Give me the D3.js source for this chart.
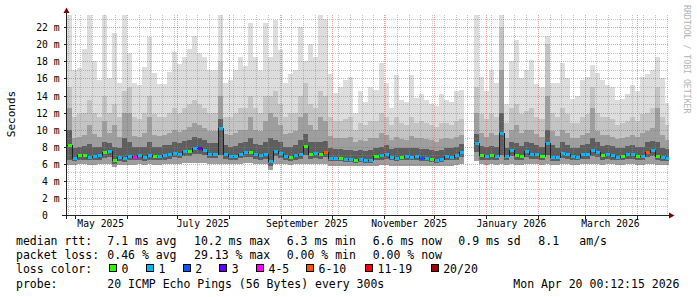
<!DOCTYPE html>
<html>
<head>
<meta charset="utf-8">
<script src="https://cdn.jsdelivr.net/npm/d3@7/dist/d3.min.js"></script>
<style>
  html, body { margin: 0; padding: 0; background: #fff; }
  svg { display: block; font-family: "DejaVu Sans Mono", monospace; }
  .axis text { font-family: "DejaVu Sans Mono", monospace; font-size: 9.7px; fill: #000; }
  .axis path.domain { display: none; }
  .legend text { font-size: 11.5px; fill: #000; white-space: pre; }
</style>
</head>
<body>
<svg id="chart" width="697" height="297"></svg>
<script>
// 3-day buckets starting 26 Apr 2025; null = no data (late Dec outage)
const bucketStart = new Date(2025, 3, 26);
const bucketDays = 3;

const maxRtt = [
  23.4, 17.0, 17.2, 19.5, 23.4, 18.0, 15.8, 23.4, 16.0, 21.3,
  15.5, 23.4, 19.0, 15.5, 15.2, 17.4, 20.9, 16.6, 15.3, 15.3,
  16.8, 19.1, 17.7, 18.5, 19.5, 21.0, 19.0, 18.5, 17.0, 17.0,
  23.4, 15.5, 15.8, 17.0, 18.5, 17.5, 22.5, 18.5, 17.0, 22.5,
  18.5, 22.8, 19.3, 15.5, 16.5, 17.0, 22.0, 18.0, 20.0, 18.5,
  23.4, 23.0, 16.5, 14.3, 15.0, 15.8, 16.2, 12.0, 14.5, 13.2,
  15.0, 14.7, 17.8, 15.5, 12.5, 16.4, 13.5, 13.2, 16.4, 13.7,
  14.2, 13.5, 13.0, 12.8, 14.2, 13.5, 13.3, 14.5, 14.7, null,
  null, 23.4, 16.2, 14.5, 17.0, 15.5, 23.4, 13.0, 18.0, 20.5,
  16.0, 17.0, 18.2, 15.3, 15.0, 21.0, 15.5, 15.5, 17.8, 16.0,
  13.6, 14.0, 15.8, 16.2, 17.6, 16.6, 15.8, 15.2, 15.0, 13.5,
  13.6, 14.2, 15.2, 14.5, 16.2, 16.5, 17.0, 18.5, 16.0, 13.1
];
const upperRtt = [
  15.0, 11.5, 11.8, 12.0, 13.5, 12.0, 11.5, 14.0, 12.0, 13.0,
  11.5, 14.5, 15.0, 11.5, 11.2, 12.0, 14.0, 11.8, 11.5, 11.5,
  12.0, 12.5, 12.0, 12.5, 13.0, 13.5, 13.0, 12.5, 12.0, 12.0,
  18.0, 11.5, 11.5, 12.0, 12.5, 12.5, 14.0, 12.5, 12.0, 14.0,
  14.0, 14.5, 13.0, 11.5, 12.0, 12.0, 14.0, 15.5, 13.0, 12.5,
  14.5, 14.0, 11.5, 11.0, 11.0, 11.2, 11.5, 10.0, 10.8, 10.5,
  11.0, 11.0, 12.0, 11.5, 10.5, 11.5, 10.8, 10.5, 11.5, 10.8,
  11.0, 10.8, 10.5, 10.3, 10.8, 10.8, 10.6, 11.0, 11.2, null,
  null, 15.0, 11.8, 11.2, 12.0, 11.5, 22.0, 10.8, 12.5, 13.0,
  11.8, 12.2, 12.5, 11.5, 11.2, 20.0, 12.0, 11.5, 12.5, 11.8,
  10.8, 10.8, 11.5, 11.8, 15.0, 12.0, 11.5, 11.5, 11.2, 10.6,
  10.8, 11.0, 11.5, 11.0, 11.8, 12.0, 12.5, 15.0, 11.5, 10.5
];
const midRtt = [
  12.5, 9.0, 9.2, 9.4, 10.5, 9.5, 9.2, 11.0, 9.6, 10.5,
  9.2, 12.0, 12.0, 9.3, 9.2, 9.6, 11.5, 9.4, 9.3, 9.4,
  9.6, 10.0, 9.7, 10.0, 10.3, 10.8, 10.5, 10.2, 9.8, 9.8,
  14.0, 9.5, 9.4, 9.6, 10.0, 10.0, 11.5, 10.0, 9.8, 11.0,
  12.0, 11.5, 10.5, 9.5, 9.6, 9.8, 11.5, 12.0, 10.5, 10.0,
  11.5, 11.0, 9.3, 9.0, 9.0, 9.0, 9.2, 8.6, 8.8, 8.7,
  9.0, 9.0, 9.6, 9.4, 8.8, 9.2, 8.9, 8.8, 9.3, 9.0,
  9.0, 8.9, 8.8, 8.6, 8.9, 9.0, 8.9, 9.2, 9.4, null,
  null, 12.0, 9.6, 9.2, 9.6, 9.4, 17.0, 9.0, 10.0, 10.5,
  9.6, 10.0, 10.0, 9.5, 9.2, 14.0, 9.8, 9.3, 10.0, 9.6,
  9.0, 9.0, 9.4, 9.6, 12.5, 9.8, 9.4, 9.4, 9.2, 8.9,
  9.0, 9.2, 9.4, 9.2, 9.6, 9.8, 10.2, 12.5, 9.4, 8.8
];
const innerRtt = [
  10.0, 7.8, 8.0, 8.1, 8.3, 8.0, 8.0, 8.6, 8.4, 8.0,
  7.8, 9.0, 8.5, 8.0, 8.0, 8.0, 8.5, 8.0, 8.0, 8.2,
  8.2, 8.5, 8.4, 8.7, 8.8, 9.2, 9.0, 8.8, 8.4, 8.4,
  11.2, 8.2, 8.0, 8.1, 8.4, 8.6, 9.0, 8.3, 8.2, 8.6,
  9.0, 8.8, 8.6, 8.0, 8.0, 8.2, 8.8, 9.5, 8.5, 8.5,
  8.6, 8.7, 7.8, 7.7, 7.7, 7.6, 7.6, 7.5, 7.6, 7.5,
  7.6, 7.8, 8.0, 8.2, 7.7, 7.8, 7.8, 7.8, 7.9, 7.9,
  7.7, 7.7, 7.6, 7.5, 7.6, 7.9, 7.8, 8.0, 8.3, null,
  null, 9.5, 8.1, 8.0, 8.1, 8.0, 12.0, 7.9, 8.6, 8.4,
  8.1, 8.6, 8.4, 8.2, 8.0, 10.0, 8.2, 7.9, 8.5, 8.2,
  7.9, 7.8, 8.2, 8.3, 9.0, 8.5, 8.1, 8.2, 8.1, 7.8,
  7.9, 8.1, 8.2, 8.0, 8.0, 8.5, 8.7, 8.5, 7.9, 7.7
];
const medianRtt = [
  8.2, 6.7, 7.0, 7.0, 6.8, 6.9, 7.0, 7.4, 7.5, 6.5,
  6.8, 6.7, 6.9, 6.8, 7.0, 6.8, 7.0, 6.9, 6.9, 7.0,
  7.1, 7.3, 7.2, 7.5, 7.5, 7.9, 7.8, 7.6, 7.2, 7.2,
  10.2, 7.1, 6.9, 6.9, 7.2, 7.4, 7.4, 7.1, 7.0, 7.2,
  6.3, 7.5, 7.3, 6.9, 6.8, 7.0, 7.2, 8.1, 7.2, 7.3,
  7.2, 7.4, 6.7, 6.7, 6.7, 6.6, 6.6, 6.5, 6.6, 6.5,
  6.5, 6.9, 7.0, 7.2, 6.8, 6.7, 6.8, 6.9, 6.8, 6.9,
  6.7, 6.7, 6.6, 6.5, 6.6, 6.9, 6.8, 7.0, 7.4, null,
  null, 8.4, 7.0, 6.9, 7.0, 6.9, 9.6, 6.9, 7.6, 7.0,
  6.9, 7.5, 7.2, 7.1, 6.9, 8.4, 6.8, 6.8, 7.3, 7.1,
  6.9, 6.8, 7.1, 7.2, 7.6, 7.4, 7.0, 7.1, 7.0, 6.8,
  6.9, 7.1, 7.2, 6.9, 6.9, 7.4, 7.6, 6.9, 6.8, 6.7
];
const lowRtt = [
  6.5, 6.3, 6.5, 6.5, 6.4, 6.4, 6.5, 6.7, 6.8, 6.0,
  6.3, 6.2, 6.4, 6.4, 6.5, 6.3, 6.5, 6.4, 6.4, 6.5,
  6.6, 6.8, 6.7, 6.9, 6.9, 7.2, 7.1, 7.0, 6.7, 6.7,
  7.0, 6.6, 6.4, 6.4, 6.7, 6.8, 6.8, 6.6, 6.5, 6.6,
  5.8, 6.9, 6.7, 6.4, 6.3, 6.5, 6.6, 7.0, 6.6, 6.7,
  6.6, 6.8, 6.3, 6.3, 6.3, 6.2, 6.2, 6.1, 6.2, 6.1,
  6.1, 6.4, 6.5, 6.6, 6.4, 6.3, 6.4, 6.4, 6.4, 6.4,
  6.3, 6.3, 6.2, 6.1, 6.2, 6.4, 6.4, 6.5, 6.8, null,
  null, 7.4, 6.5, 6.4, 6.5, 6.4, 7.0, 6.4, 6.9, 6.5,
  6.4, 6.8, 6.6, 6.6, 6.4, 7.0, 6.3, 6.3, 6.7, 6.6,
  6.4, 6.4, 6.6, 6.6, 6.9, 6.8, 6.5, 6.6, 6.5, 6.4,
  6.4, 6.6, 6.6, 6.4, 6.4, 6.8, 6.9, 6.4, 6.3, 6.3
];
const floorRtt = [
  5.9, 5.9, 6.0, 6.0, 5.9, 5.9, 6.0, 6.0, 6.0, 5.6,
  5.9, 5.9, 5.9, 5.9, 6.0, 5.9, 6.0, 5.9, 5.9, 6.0,
  6.0, 6.0, 6.0, 6.1, 6.1, 6.1, 6.1, 6.1, 6.0, 6.0,
  6.0, 6.0, 6.0, 6.0, 6.0, 6.1, 6.1, 6.0, 6.0, 6.0,
  5.3, 6.0, 6.0, 6.0, 5.9, 6.0, 6.0, 6.0, 6.0, 6.0,
  6.0, 6.0, 5.8, 5.8, 5.8, 5.8, 5.8, 5.7, 5.8, 5.7,
  5.7, 5.8, 5.9, 5.9, 5.8, 5.8, 5.8, 5.8, 5.8, 5.8,
  5.8, 5.8, 5.8, 5.7, 5.8, 5.8, 5.8, 5.9, 6.0, null,
  null, 6.3, 6.0, 5.9, 6.0, 5.9, 6.0, 5.9, 6.0, 5.9,
  5.9, 6.0, 6.0, 6.0, 5.9, 6.0, 5.9, 5.9, 6.0, 6.0,
  5.9, 5.9, 6.0, 6.0, 6.0, 6.0, 5.9, 6.0, 6.0, 5.9,
  5.9, 6.0, 6.0, 5.9, 5.9, 6.0, 6.0, 5.9, 5.9, 5.9
];
// index into lossLabels for each bucket
const lossIndex = [
  0, 1, 0, 0, 1, 1, 1, 0, 1, 0,
  1, 1, 1, 4, 1, 1, 1, 0, 1, 1,
  1, 1, 1, 1, 0, 1, 3, 1, 1, 1,
  1, 1, 1, 1, 1, 1, 0, 1, 1, 1,
  1, 1, 1, 1, 0, 1, 1, 0, 0, 1,
  0, 5, 1, 1, 0, 1, 1, 0, 1, 1,
  1, 0, 1, 1, 1, 1, 0, 1, 1, 1,
  2, 1, 0, 1, 1, 1, 1, 1, 1, null,
  null, 1, 0, 1, 0, 1, 1, 1, 1, 0,
  0, 1, 1, 1, 0, 1, 1, 1, 1, 1,
  1, 1, 1, 1, 1, 1, 0, 1, 1, 1,
  0, 1, 1, 0, 1, 5, 1, 0, 1, 1
];

const lossLabels = ["0", "1", "2", "3", "4-5", "6-10", "11-19", "20/20"];
const lossColors = ["#26ff00", "#00b8ff", "#0059ff", "#5e00ff", "#ff00ff", "#ff5500", "#ff0000", "#a00000"];

const yTicks = [0, 2, 4, 6, 8, 10, 12, 14, 16, 18, 20, 22];
const rttStats = ["7.1 ms avg", "10.2 ms max", "6.3 ms min", "6.6 ms now", "0.9 ms sd", "8.1", "am/s"];
const lossStats = ["0.46 % avg", "29.13 % max", "0.00 % min", "0.00 % now"];
const probeText = "20 ICMP Echo Pings (56 Bytes) every 300s";
const stampText = "Mon Apr 20 00:12:15 2026";

// ---- layout ----
const plot = { left: 67, right: 668, top: 15, bottom: 215 };
const statX = [107.3, 194, 286.7, 372.7, 458.3, 538.3, 579.3];
const swatchX = [109, 146, 182.7, 219.3, 256, 306, 365, 430.7];
const lineY = [244.5, 258.8, 273.2, 287.5];

const svg = d3.select("#chart");

const x = d3.scaleTime()
  .domain([new Date(2025, 3, 26, 5, 30), new Date(2026, 3, 20, 0, 12)])
  .range([67, 668.6]);
const y = d3.scaleLinear().domain([0, 200 / 8.532]).range([215, 15]);

const n = maxRtt.length;
const colX0 = (i) => Math.max(plot.left, Math.round(x(d3.timeDay.offset(bucketStart, i * bucketDays))));
const colX1 = (i) => Math.min(plot.right + 1, Math.round(x(d3.timeDay.offset(bucketStart, (i + 1) * bucketDays))));
const present = d3.range(n).filter((i) => maxRtt[i] != null);

svg.append("defs").append("clipPath").attr("id", "plotClip")
  .append("rect")
  .attr("x", plot.left).attr("y", plot.top)
  .attr("width", plot.right - plot.left + 1).attr("height", plot.bottom - plot.top);

// smoke: outer pings light, inner pings darker
const bands = [
  { top: maxRtt, bottom: floorRtt, color: "#dddddd" },
  { top: upperRtt, bottom: floorRtt, color: "#c4c4c4" },
  { top: midRtt, bottom: floorRtt, color: "#9e9e9e" },
  { top: innerRtt, bottom: lowRtt, color: "#5e5e5e" }
];

const smoke = svg.append("g").attr("clip-path", "url(#plotClip)").attr("shape-rendering", "crispEdges");
bands.forEach((band) => {
  smoke.append("g").selectAll("rect")
    .data(present)
    .join("rect")
    .attr("x", (i) => colX0(i))
    .attr("width", (i) => colX1(i) - colX0(i))
    .attr("y", (i) => Math.round(y(band.top[i])))
    .attr("height", (i) => Math.round(y(band.bottom[i])) - Math.round(y(band.top[i])))
    .attr("fill", band.color);
});

// grid (drawn over smoke like rrdtool)
const grid = svg.append("g").attr("shape-rendering", "crispEdges").attr("stroke-dasharray", "1,1");
const minorGrid = "rgba(140,140,140,0.5)";
const majorGrid = "rgba(222,80,80,0.55)";

const monthStarts = d3.timeMonth.range(x.domain()[0], x.domain()[1]);
const weekStarts = d3.timeSunday.range(x.domain()[0], x.domain()[1])
  .filter((d) => !monthStarts.some((m) => +m === +d));

grid.selectAll("line.hminor")
  .data(d3.range(1, 24).filter((v) => v % 2 === 1))
  .join("line")
  .attr("x1", plot.left).attr("x2", plot.right)
  .attr("y1", (v) => Math.round(y(v)) + 0.5).attr("y2", (v) => Math.round(y(v)) + 0.5)
  .attr("stroke", minorGrid);
grid.selectAll("line.vminor")
  .data(weekStarts)
  .join("line")
  .attr("x1", (d) => Math.round(x(d)) + 0.5).attr("x2", (d) => Math.round(x(d)) + 0.5)
  .attr("y1", plot.top).attr("y2", plot.bottom)
  .attr("stroke", minorGrid);
grid.append("g").selectAll("line")
  .data(yTicks.filter((v) => v > 0))
  .join("line")
  .attr("x1", plot.left).attr("x2", plot.right)
  .attr("y1", (v) => Math.round(y(v)) + 0.5).attr("y2", (v) => Math.round(y(v)) + 0.5)
  .attr("stroke", majorGrid);
grid.append("g").selectAll("line")
  .data(monthStarts)
  .join("line")
  .attr("x1", (d) => Math.round(x(d)) + 0.5).attr("x2", (d) => Math.round(x(d)) + 0.5)
  .attr("y1", plot.top).attr("y2", plot.bottom)
  .attr("stroke", majorGrid);

// median: dark step line with loss-coloured segments
const medianPts = [];
d3.range(n).forEach((i) => {
  if (medianRtt[i] == null) { medianPts.push(null); return; }
  medianPts.push([colX0(i), medianRtt[i]], [colX1(i), medianRtt[i]]);
});
svg.append("path")
  .attr("clip-path", "url(#plotClip)")
  .attr("d", d3.line()
    .defined((p) => p != null)
    .x((p) => p[0])
    .y((p) => Math.round(y(p[1])) + 0.5)(medianPts))
  .attr("fill", "none")
  .attr("stroke", "#202020")
  .attr("stroke-width", 1)
  .attr("shape-rendering", "crispEdges");

svg.append("g").attr("clip-path", "url(#plotClip)").attr("shape-rendering", "crispEdges")
  .selectAll("rect")
  .data(present)
  .join("rect")
  .attr("x", (i) => colX0(i) + 1)
  .attr("width", (i) => Math.max(1, colX1(i) - colX0(i) - 1))
  .attr("y", (i) => Math.round(y(medianRtt[i])) - 1)
  .attr("height", 3)
  .attr("fill", (i) => lossColors[lossIndex[i]]);

// axes
const yAxis = d3.axisLeft(y)
  .tickValues(yTicks)
  .tickSize(3)
  .tickPadding(4.5)
  .tickFormat((v) => (v === 0 ? "0\u00a0\u00a0" : `${v} m`));
const yAxisG = svg.append("g").attr("class", "axis")
  .attr("transform", `translate(${plot.left},0)`)
  .call(yAxis);
yAxisG.selectAll(".tick line").attr("stroke", "#222").attr("shape-rendering", "crispEdges");
yAxisG.selectAll(".tick").attr("transform", (v) => `translate(0,${Math.round(y(v)) + 0.5})`);

const xLabelAxis = d3.axisBottom(x)
  .tickValues(d3.timeMonth.every(2).range(new Date(2025, 4, 1), x.domain()[1]).map((d) => d3.timeDay.offset(d, 15)))
  .tickSize(0)
  .tickPadding(5.6)
  .tickFormat(d3.timeFormat("%B %Y"));
svg.append("g").attr("class", "axis")
  .attr("transform", `translate(0,${plot.bottom})`)
  .call(xLabelAxis);

const xTickAxis = d3.axisBottom(x).tickValues(monthStarts).tickSize(3).tickFormat("");
svg.append("g").attr("class", "axis")
  .attr("transform", `translate(0,${plot.bottom + 0.5})`)
  .call(xTickAxis)
  .selectAll(".tick line").attr("stroke", "#222").attr("shape-rendering", "crispEdges");

const frame = svg.append("g").attr("shape-rendering", "crispEdges");
frame.append("line")
  .attr("x1", 62).attr("x2", 669).attr("y1", plot.bottom + 0.5).attr("y2", plot.bottom + 0.5)
  .attr("stroke", "#222");
frame.append("line")
  .attr("x1", 66.5).attr("x2", 66.5).attr("y1", 219).attr("y2", 12)
  .attr("stroke", "#222");
svg.append("path").attr("d", "M669,212.5L674.5,215.5L669,218.5Z").attr("fill", "#7f0000");
svg.append("path").attr("d", "M63.5,13L66.5,7.5L69.5,13Z").attr("fill", "#7f0000");

// titles
svg.append("text")
  .attr("transform", "translate(15,114) rotate(-90)")
  .attr("text-anchor", "middle")
  .attr("font-size", 11)
  .text("Seconds");
svg.append("text")
  .attr("transform", "translate(684,5) rotate(90)")
  .attr("font-size", 8.2)
  .attr("fill", "#b4b4b4")
  .text("RRDTOOL / TOBI OETIKER");

// legend
const legend = svg.append("g").attr("class", "legend");
const addText = (tx, ty, s) => legend.append("text").attr("x", tx).attr("y", ty).text(s);

addText(16, lineY[0], "median rtt:");
rttStats.forEach((s, k) => addText(statX[k], lineY[0], s));

addText(16, lineY[1], "packet loss:");
lossStats.forEach((s, k) => addText(statX[k], lineY[1], s));

addText(16, lineY[2], "loss color:");
lossLabels.forEach((s, k) => {
  legend.append("rect")
    .attr("x", swatchX[k] + 0.5).attr("y", lineY[2] - 8.5)
    .attr("width", 7).attr("height", 7)
    .attr("fill", lossColors[k])
    .attr("stroke", "#000").attr("stroke-width", 1)
    .attr("shape-rendering", "crispEdges");
  addText(swatchX[k] + 12.5, lineY[2], s);
});

addText(16, lineY[3], "probe:");
addText(statX[0], lineY[3], probeText);
addText(513.3, lineY[3], stampText);
</script>
</body>
</html>
